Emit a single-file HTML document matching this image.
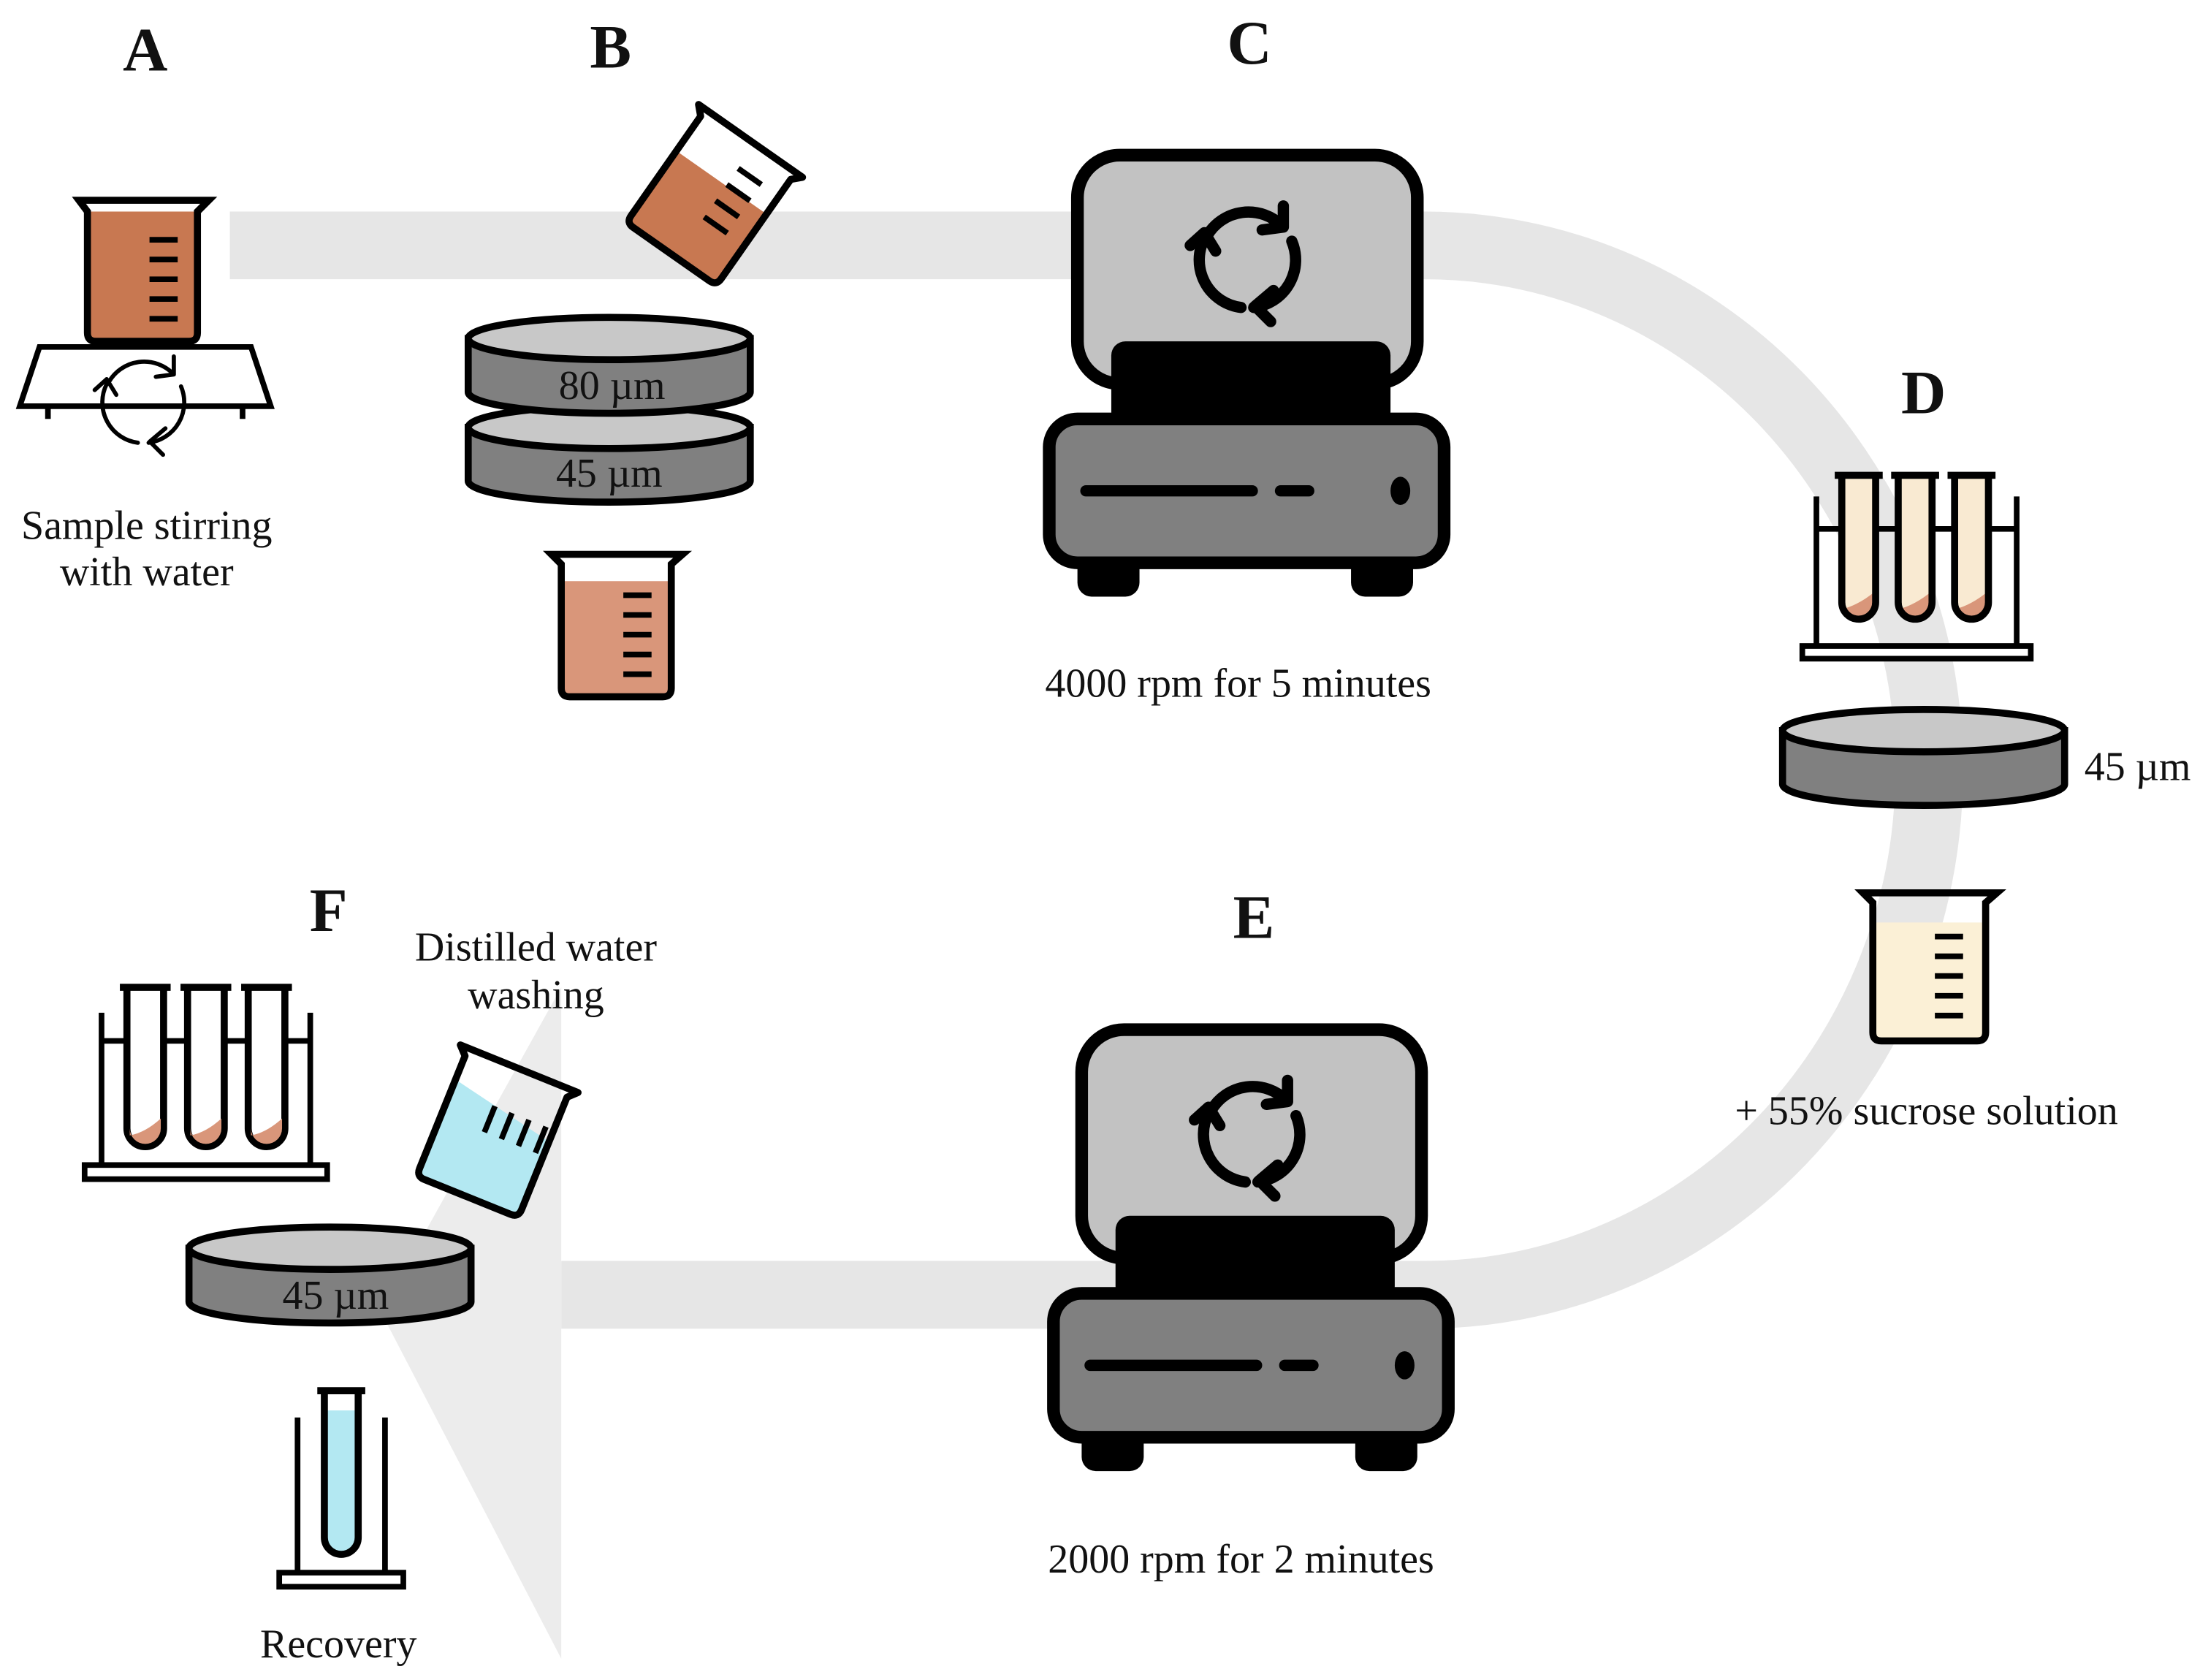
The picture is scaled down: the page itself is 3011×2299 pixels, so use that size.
<!DOCTYPE html>
<html><head><meta charset="utf-8"><style>
html,body{margin:0;padding:0;background:#fff}
svg{display:block}
text{font-family:"Liberation Serif",serif;fill:#111}
.L{font-weight:bold;font-size:44px}
.t{font-size:29px}
</style></head><body>
<svg width="3011" height="2299" viewBox="0 0 1560 1191.1" xmlns="http://www.w3.org/2000/svg">
<defs>
<g id="rot" fill="none" stroke="#000" stroke-linecap="round" stroke-linejoin="round">
<path d="M-29,-17 A34,34 0 0 1 24,-24"/>
<path d="M10,-21 L25,-23 L25,-38"/>
<path d="M31,-13 A34,34 0 0 1 4,34"/>
<path d="M18,22 L5,33 L16,44"/>
<path d="M-5,34 A34,34 0 0 1 -31,-15"/>
<path d="M-41,-10 L-31,-19 L-23,-6"/>
</g>
<g id="cent">
<rect x="764" y="110" width="241" height="162" rx="30" fill="#c2c2c2" stroke="#000" stroke-width="9"/>
<rect x="788" y="242" width="198" height="60" rx="10" fill="#000"/>
<rect x="764" y="390" width="44" height="33" rx="10" fill="#000"/>
<rect x="958" y="390" width="44" height="33" rx="10" fill="#000"/>
<rect x="744" y="297" width="280" height="102" rx="20" fill="#808080" stroke="#000" stroke-width="9"/>
<line x1="770" y1="348" x2="888" y2="348" stroke="#000" stroke-width="8" stroke-linecap="round"/>
<line x1="908" y1="348" x2="928" y2="348" stroke="#000" stroke-width="8" stroke-linecap="round"/>
<ellipse cx="993" cy="348" rx="7" ry="10" fill="#000"/>
<use href="#rot" transform="translate(885,184)" stroke-width="8"/>
</g>
<g id="sieve">
<path d="M-100,0 L-100,38 A100,15 0 0 0 100,38 L100,0 Z" fill="#808080" stroke="#000" stroke-width="5"/>
<ellipse cx="0" cy="0" rx="100" ry="15" fill="#c8c8c8" stroke="#000" stroke-width="5"/>
</g>
</defs>

<!-- gray flow band -->
<g fill="none" stroke="#e6e6e6" stroke-width="48">
<line x1="163" y1="174" x2="1012" y2="174"/>
<path d="M1010,174 A358,372 0 0 1 1010,918"/>
<line x1="1012" y1="918" x2="398" y2="918"/>
</g>
<polygon points="398,700 398,1176 270,930" fill="#ececec"/>

<!-- labels -->
<text class="L" x="103" y="50" text-anchor="middle">A</text>
<text class="L" x="433" y="48" text-anchor="middle">B</text>
<text class="L" x="886" y="45" text-anchor="middle">C</text>
<text class="L" x="1364" y="293" text-anchor="middle">D</text>
<text class="L" x="889" y="665" text-anchor="middle">E</text>
<text class="L" x="233" y="660" text-anchor="middle">F</text>

<text class="t" x="104" y="382" text-anchor="middle">Sample stirring</text>
<text class="t" x="104" y="415" text-anchor="middle">with water</text>
<text class="t" x="878" y="494" text-anchor="middle">4000 rpm  for 5 minutes</text>
<text class="t" x="1478" y="553">45 µm</text>
<text class="t" x="1366" y="797" text-anchor="middle">+ 55% sucrose solution</text>
<text class="t" x="380" y="681" text-anchor="middle">Distilled  water</text>
<text class="t" x="380" y="715" text-anchor="middle">washing</text>
<text class="t" x="880" y="1115" text-anchor="middle">2000 rpm  for 2 minutes</text>
<text class="t" x="240" y="1175" text-anchor="middle">Recovery</text>

<!-- A -->
<path d="M62,150 L62,236 Q62,242 68,242 L134,242 Q140,242 140,236 L140,150 Z" fill="#c87851"/>
<path d="M56,142 L62,150 L62,236 Q62,242 68,242 L134,242 Q140,242 140,236 L140,150 L148,142 Z" fill="none" stroke="#000" stroke-width="5"/>
<g stroke="#000" stroke-width="4"><line x1="106" y1="170" x2="126" y2="170"/><line x1="106" y1="184" x2="126" y2="184"/><line x1="106" y1="198" x2="126" y2="198"/><line x1="106" y1="212" x2="126" y2="212"/><line x1="106" y1="226" x2="126" y2="226"/></g>
<path d="M28,246 L178,246 L192,288 L14,288 Z" fill="#fff" stroke="#000" stroke-width="4"/>
<line x1="34" y1="288" x2="34" y2="297" stroke="#000" stroke-width="4"/>
<line x1="172" y1="288" x2="172" y2="297" stroke="#000" stroke-width="4"/>
<use href="#rot" transform="translate(102,285) scale(0.85)" stroke-width="3.5"/>

<!-- B -->
<g transform="translate(505,137) rotate(35)">
<path d="M-38,-10 L40,-10 L40,46 Q40,52 34,52 L-32,52 Q-38,52 -38,46 Z" fill="#c87851"/>
<path d="M-44,-46 L-38,-40 L-38,46 Q-38,52 -32,52 L34,52 Q40,52 40,46 L40,-40 L46,-46 Z" fill="none" stroke="#000" stroke-width="5" stroke-linejoin="round"/>
<g stroke="#000" stroke-width="4"><line x1="5" y1="-25" x2="25" y2="-25"/><line x1="5" y1="-11" x2="25" y2="-11"/><line x1="5" y1="3" x2="25" y2="3"/><line x1="5" y1="17" x2="25" y2="17"/></g>
</g>
<use href="#sieve" transform="translate(432,303)"/>
<use href="#sieve" transform="translate(432,240)"/>
<text class="t" x="434" y="283" text-anchor="middle">80 µm</text>
<text class="t" x="432" y="345" text-anchor="middle">45 µm</text>
<path d="M398,412 L476,412 L476,488 Q476,494 470,494 L404,494 Q398,494 398,488 Z" fill="#d9967a"/>
<path d="M391,393 L398,400 L398,488 Q398,494 404,494 L470,494 Q476,494 476,488 L476,400 L484,393 Z" fill="none" stroke="#000" stroke-width="5"/>
<g stroke="#000" stroke-width="4"><line x1="442" y1="422" x2="462" y2="422"/><line x1="442" y1="436" x2="462" y2="436"/><line x1="442" y1="450" x2="462" y2="450"/><line x1="442" y1="464" x2="462" y2="464"/><line x1="442" y1="478" x2="462" y2="478"/></g>

<!-- C & E -->
<use href="#cent"/>
<use href="#cent" transform="translate(3,620)"/>

<!-- D -->
<g>
<line x1="1288" y1="352" x2="1288" y2="458" stroke="#000" stroke-width="4"/>
<line x1="1430" y1="352" x2="1430" y2="458" stroke="#000" stroke-width="4"/>
<line x1="1288" y1="375" x2="1430" y2="375" stroke="#000" stroke-width="4"/>
<g transform="translate(1318,337)"><path d="M-12,0 L-12,90 A12,12 0 0 0 12,90 L12,0 Z" fill="#f9ead2"/><path d="M-12,95 Q0,92 12,82 L12,90 A12,12 0 0 1 -12,90 Z" fill="#d9967a"/></g>
<g transform="translate(1358,337)"><path d="M-12,0 L-12,90 A12,12 0 0 0 12,90 L12,0 Z" fill="#f9ead2"/><path d="M-12,95 Q0,92 12,82 L12,90 A12,12 0 0 1 -12,90 Z" fill="#d9967a"/></g>
<g transform="translate(1398,337)"><path d="M-12,0 L-12,90 A12,12 0 0 0 12,90 L12,0 Z" fill="#f9ead2"/><path d="M-12,95 Q0,92 12,82 L12,90 A12,12 0 0 1 -12,90 Z" fill="#d9967a"/></g>
<g fill="none" stroke="#000" stroke-width="5">
<path d="M1306,337 L1306,427 A12,12 0 0 0 1330,427 L1330,337 M1301,337 L1335,337"/>
<path d="M1346,337 L1346,427 A12,12 0 0 0 1370,427 L1370,337 M1341,337 L1375,337"/>
<path d="M1386,337 L1386,427 A12,12 0 0 0 1410,427 L1410,337 M1381,337 L1415,337"/>
</g>
<rect x="1278" y="458" width="162" height="9" fill="#fff" stroke="#000" stroke-width="4"/>
</g>
<use href="#sieve" transform="translate(1364,518)"/>
<path d="M1328,654 L1408,654 L1408,732 Q1408,738 1402,738 L1334,738 Q1328,738 1328,732 Z" fill="#fbf0d6"/>
<path d="M1321,633 L1328,640 L1328,732 Q1328,738 1334,738 L1402,738 Q1408,738 1408,732 L1408,640 L1416,633 Z" fill="none" stroke="#000" stroke-width="5"/>
<g stroke="#000" stroke-width="4"><line x1="1372" y1="664" x2="1392" y2="664"/><line x1="1372" y1="678" x2="1392" y2="678"/><line x1="1372" y1="692" x2="1392" y2="692"/><line x1="1372" y1="706" x2="1392" y2="706"/><line x1="1372" y1="720" x2="1392" y2="720"/></g>

<!-- F -->
<g>
<line x1="72" y1="718" x2="72" y2="826" stroke="#000" stroke-width="4"/>
<line x1="220" y1="718" x2="220" y2="826" stroke="#000" stroke-width="4"/>
<line x1="72" y1="738" x2="220" y2="738" stroke="#000" stroke-width="4"/>
<g fill="#fff" stroke="#000" stroke-width="5">
<path d="M90,700 L90,800 A13,13 0 0 0 116,800 L116,700"/>
<path d="M133,700 L133,800 A13,13 0 0 0 159,800 L159,700"/>
<path d="M176,700 L176,800 A13,13 0 0 0 202,800 L202,700"/>
</g>
<g fill="#d9967a"><path d="M92,805 Q103,803 114,793 L114,800 A11,11 0 0 1 92,800 Z"/><path d="M135,805 Q146,803 157,793 L157,800 A11,11 0 0 1 135,800 Z"/><path d="M178,805 Q189,803 200,793 L200,800 A11,11 0 0 1 178,800 Z"/></g>
<g stroke="#000" stroke-width="5"><line x1="85" y1="700" x2="121" y2="700"/><line x1="128" y1="700" x2="164" y2="700"/><line x1="171" y1="700" x2="207" y2="700"/></g>
<rect x="60" y="826" width="172" height="10" fill="#fff" stroke="#000" stroke-width="4"/>
</g>
<g transform="translate(350,800) rotate(22)">
<path d="M-38,-22 L40,-6 L40,46 Q40,52 34,52 L-32,52 Q-38,52 -38,46 Z" fill="#b3e8f2"/>
<path d="M-44,-46 L-38,-40 L-38,46 Q-38,52 -32,52 L34,52 Q40,52 40,46 L40,-40 L46,-46 Z" fill="none" stroke="#000" stroke-width="5" stroke-linejoin="round"/>
<g stroke="#000" stroke-width="4"><line x1="-5" y1="-15" x2="-5" y2="5"/><line x1="8" y1="-15" x2="8" y2="5"/><line x1="21" y1="-15" x2="21" y2="5"/><line x1="34" y1="-15" x2="34" y2="5"/></g>
</g>
<use href="#sieve" transform="translate(234,885)"/>
<text class="t" x="238" y="928" text-anchor="middle">45 µm</text>
<line x1="211" y1="1005" x2="211" y2="1115" stroke="#000" stroke-width="4"/>
<line x1="273" y1="1005" x2="273" y2="1115" stroke="#000" stroke-width="4"/>
<path d="M230,1000 L230,1090 A12,12 0 0 0 254,1090 L254,1000 Z" fill="#b3e8f2"/>
<path d="M230,986 L230,1090 A12,12 0 0 0 254,1090 L254,986 M225,986 L259,986" fill="none" stroke="#000" stroke-width="5"/>
<rect x="198" y="1115" width="88" height="10" fill="#fff" stroke="#000" stroke-width="4"/>
</svg>
</body></html>
